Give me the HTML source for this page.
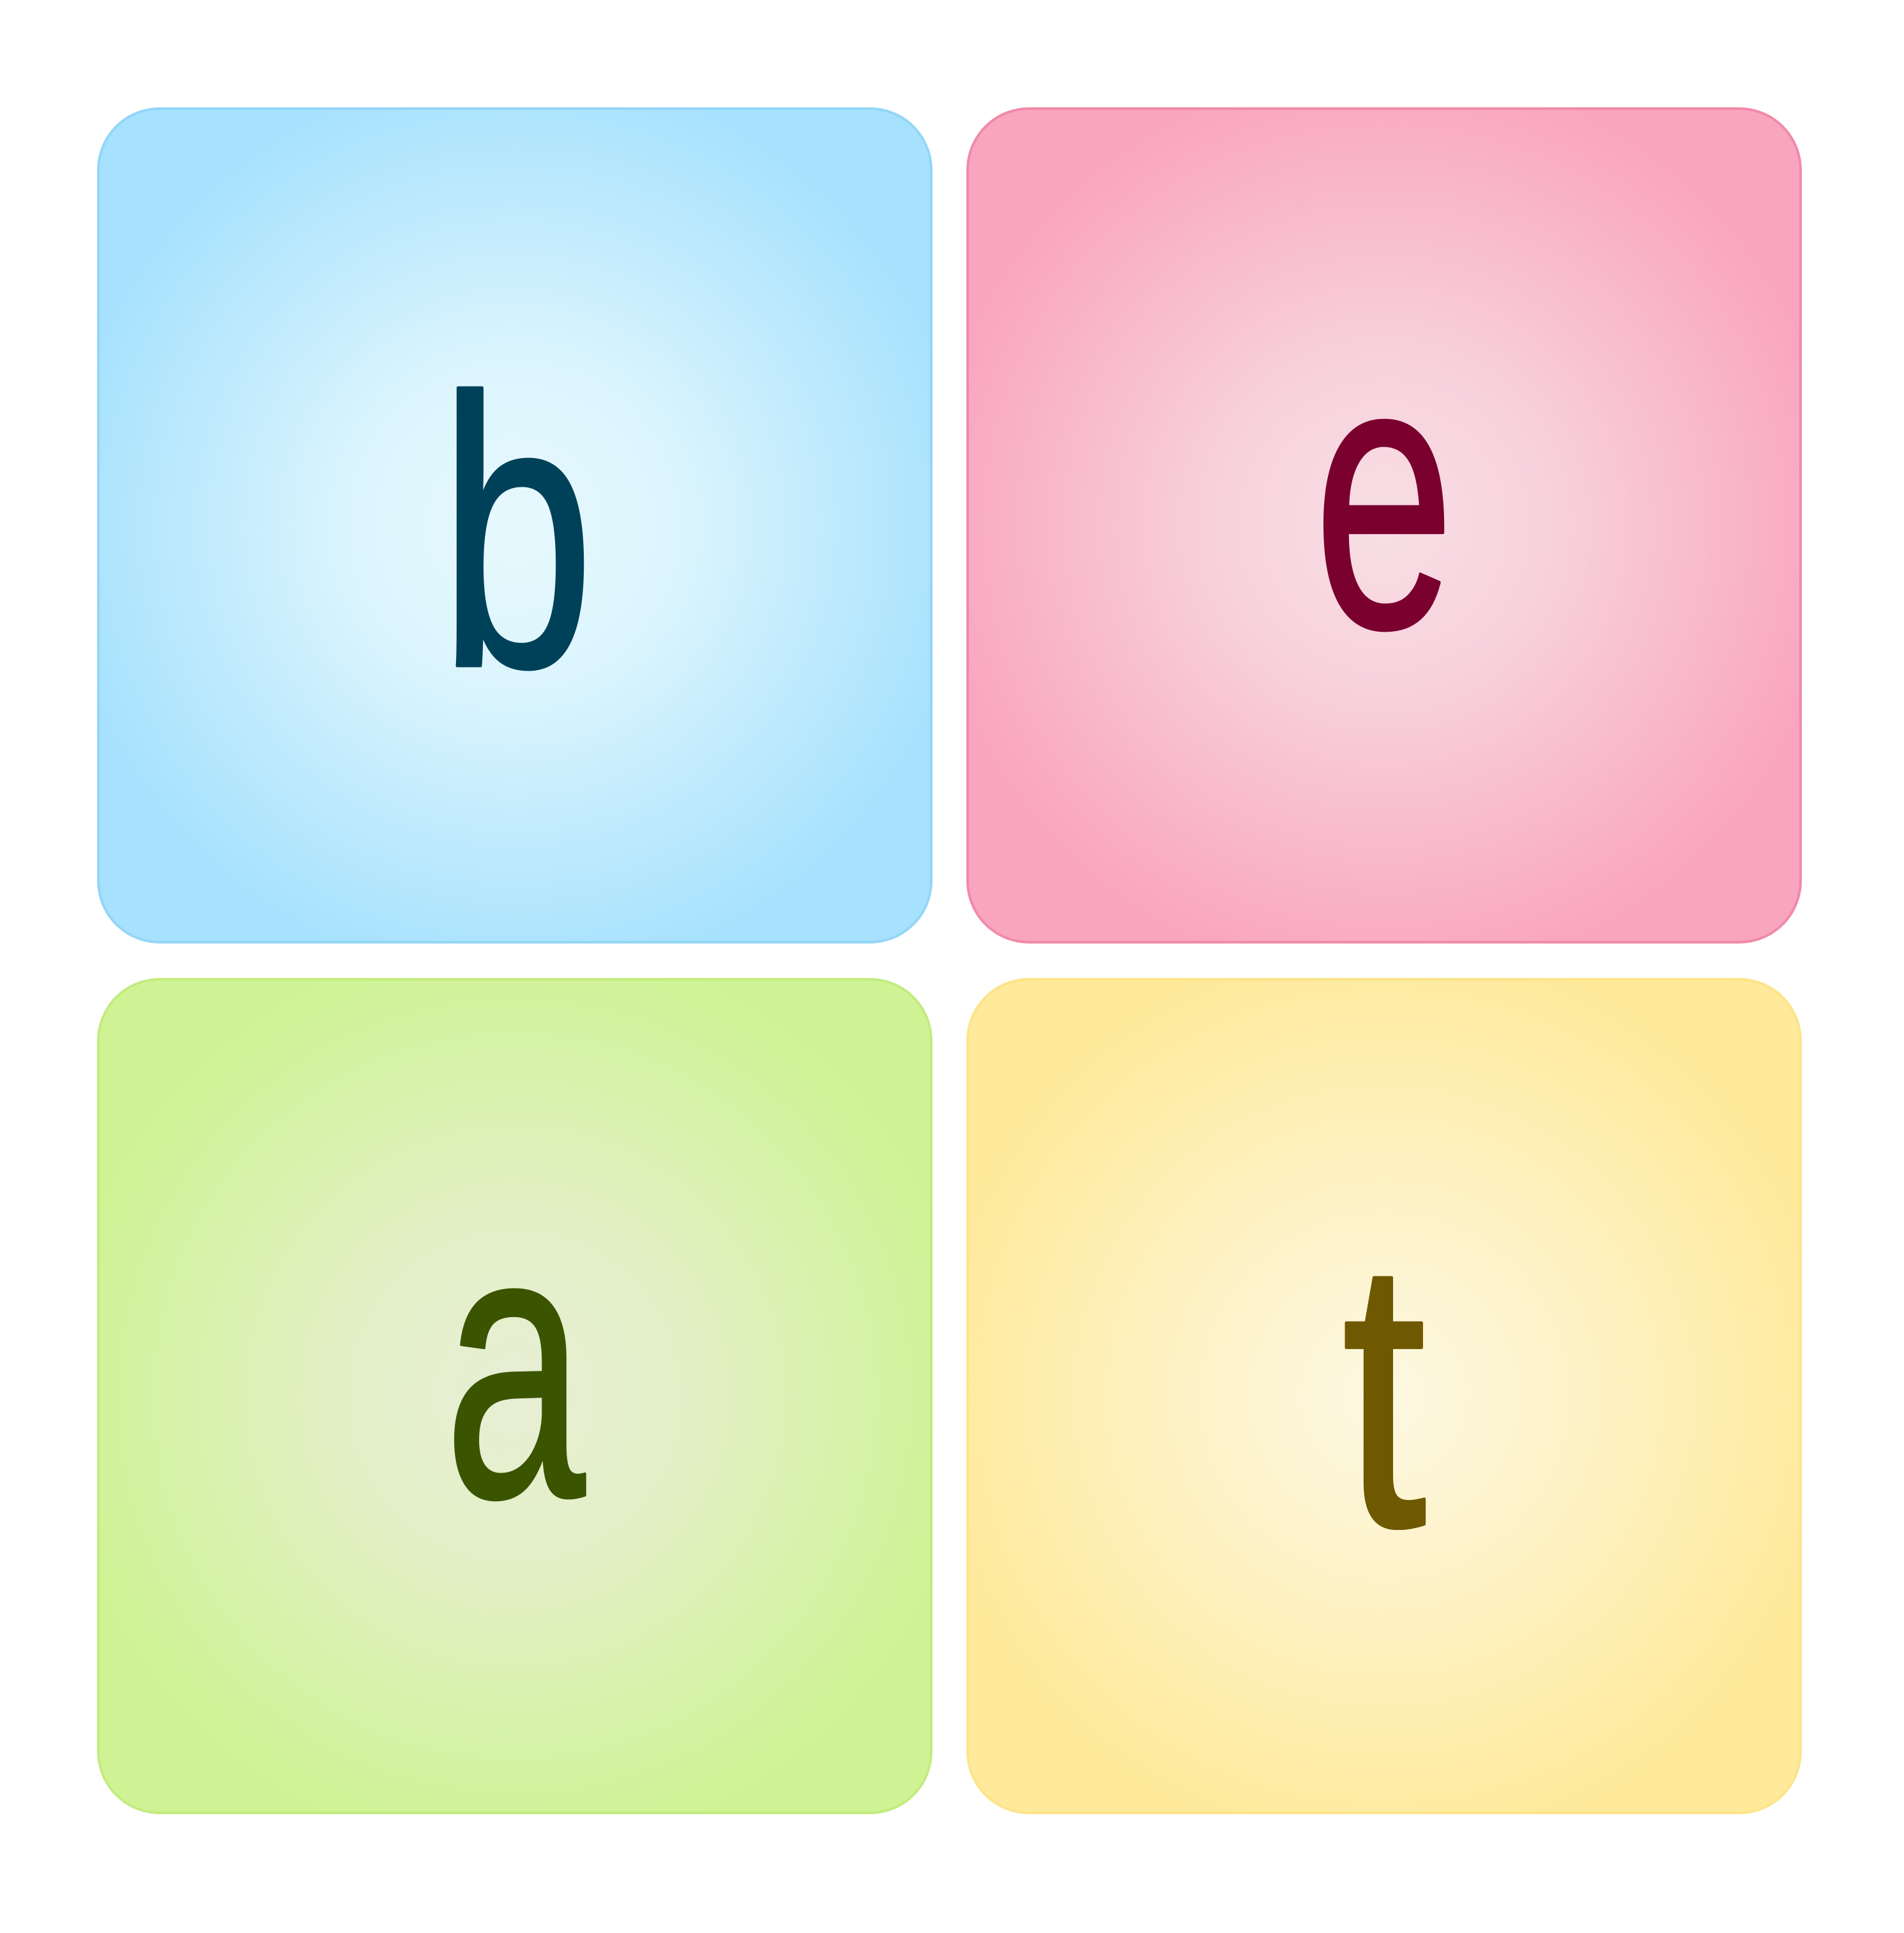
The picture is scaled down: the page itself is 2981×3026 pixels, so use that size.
<!DOCTYPE html>
<html><head><meta charset="utf-8"><style>
html,body{margin:0;padding:0;background:#fff;width:2981px;height:3026px;overflow:hidden}
svg{display:block}
text{font-family:"Liberation Sans",sans-serif;font-size:600px;stroke-width:5;stroke-linejoin:round}
</style></head><body>
<svg width="2981" height="3026" viewBox="0 0 2981 3026">
<defs>
<radialGradient id="gb" cx="0.5" cy="0.5" r="0.55"><stop offset="0" stop-color="#e6f9fd"/><stop offset="0.35" stop-color="#dcf5fd"/><stop offset="1" stop-color="#a6e1fd"/></radialGradient>
<radialGradient id="gp" cx="0.5" cy="0.5" r="0.55"><stop offset="0" stop-color="#f8dee5"/><stop offset="0.35" stop-color="#f8d2dd"/><stop offset="1" stop-color="#f9a5bf"/></radialGradient>
<radialGradient id="gg" cx="0.5" cy="0.5" r="0.55"><stop offset="0" stop-color="#e8eed4"/><stop offset="0.35" stop-color="#e3f0c8"/><stop offset="1" stop-color="#cff394"/></radialGradient>
<radialGradient id="gy" cx="0.5" cy="0.5" r="0.55"><stop offset="0" stop-color="#fdf8e2"/><stop offset="0.35" stop-color="#fdf3cc"/><stop offset="1" stop-color="#feea9a"/></radialGradient>
</defs>
<g>
<rect x="154" y="170" width="1304" height="1305" rx="96" fill="url(#gb)" stroke="#94d6f6" stroke-width="4"/>
<text x="809" y="1042" fill="#00415a" stroke="#00415a" text-anchor="middle" transform="translate(809 0) scale(0.73 1) translate(-809 0)">b</text>
</g>
<g>
<rect x="1515" y="170" width="1304" height="1305" rx="96" fill="url(#gp)" stroke="#f08aa8" stroke-width="4"/>
<text x="2167" y="981" fill="#7a002e" stroke="#7a002e" text-anchor="middle" transform="translate(2167 0) scale(0.66 1) translate(-2167 0)">e</text>
</g>
<g>
<rect x="154" y="1533" width="1304" height="1305" rx="96" fill="url(#gg)" stroke="#c2ec7e" stroke-width="4"/>
<text x="806" y="2342" fill="#3a5400" stroke="#3a5400" text-anchor="middle" transform="translate(806 0) scale(0.66 1) translate(-806 0)">a</text>
</g>
<g>
<rect x="1515" y="1533" width="1304" height="1305" rx="96" fill="url(#gy)" stroke="#fce48a" stroke-width="4"/>
<text x="2167" y="2388" fill="#6e5800" stroke="#6e5800" text-anchor="middle" transform="translate(2167 0) scale(0.8 1) translate(-2167 0)">t</text>
</g>
</svg>
</body></html>
